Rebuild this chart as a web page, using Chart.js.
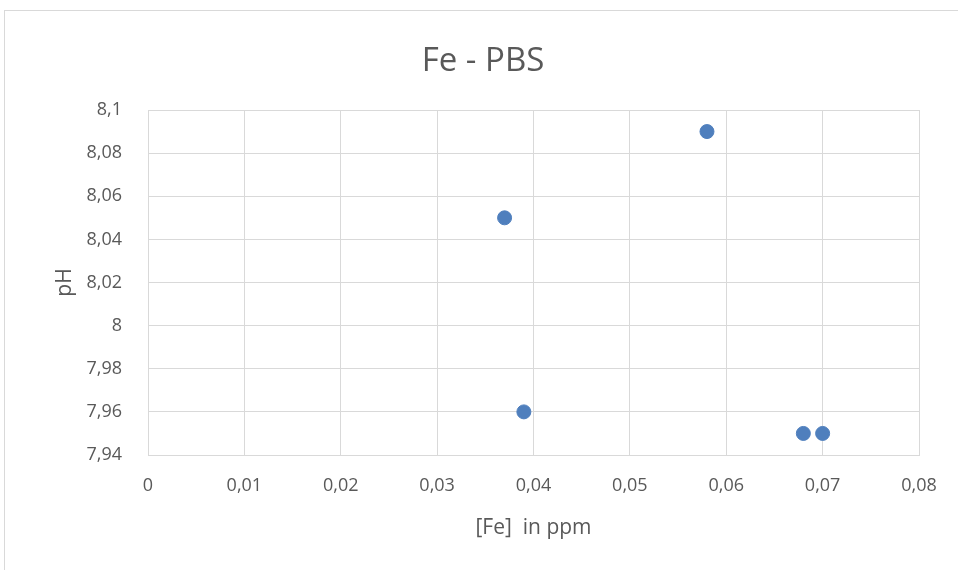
<!DOCTYPE html>
<html>
<head>
<meta charset="utf-8">
<script src="https://cdn.jsdelivr.net/npm/chart.js@4"></script>
<style>
  body { margin: 0; background: #fff; }
  #wrap { position: relative; width: 958px; height: 570px; overflow: hidden; }
  #frame { position: absolute; left: 4px; top: 10px; width: 1000px; height: 600px; border: 1px solid #d9d9d9; }
  canvas { position: absolute; left: 0; top: 0; }
  #title { position: absolute; left: 283px; width: 400px; top: 36px; height: 42px; line-height: 42px;
           text-align: center; font: 33px 'Open Sans', 'Noto Sans', sans-serif; color: #595959; }
</style>
</head>
<body>
<div id="wrap">
  <div id="frame"></div>
  <canvas id="fe-chart" width="958" height="570"></canvas>
  <div id="title">Fe - PBS</div>
</div>
<script>
// data
let feValues = [0.037, 0.039, 0.058, 0.068, 0.070]
let phValues = [8.05, 7.96, 8.09, 7.95, 7.95]
let xTicks = [0, 0.01, 0.02, 0.03, 0.04, 0.05, 0.06, 0.07, 0.08]
let yTicks = [7.94, 7.96, 7.98, 8, 8.02, 8.04, 8.06, 8.08, 8.1]

let points = []
for (let i = 0; i < feValues.length; i++) {
    points.push({x: feValues[i], y: phValues[i]})
}

// comma as decimal separator
function commaLabel(v) {
    return Number(v.toFixed(3)).toString().replace('.', ',')
}

let textColor = '#595959'
let gridColor = '#d9d9d9'
let fontName = "'Open Sans', 'Noto Sans', sans-serif"

let ctx = document.querySelector('#fe-chart').getContext('2d')

let feChart = new Chart(ctx, {
    type: 'scatter',
    data: {
        datasets: [{
            data: points,
            backgroundColor: '#4f7fbd',
            borderColor: '#4f7fbd',
            pointRadius: 7,
            pointHoverRadius: 7
        }]
    },
    options: {
        responsive: false,
        animation: false,
        layout: { padding: { left: 10, right: 39, top: 110, bottom: 29 } },
        plugins: {
            legend: { display: false },
            tooltip: { enabled: false },
            title: { display: false }
        },
        scales: {
            x: {
                type: 'linear',
                min: xTicks[0],
                max: xTicks[xTicks.length - 1],
                afterBuildTicks: axis => { axis.ticks = xTicks.map(v => ({value: v})) },
                afterFit: axis => { axis.height = 86 },
                grid: { color: gridColor, drawTicks: false },
                border: { color: gridColor },
                ticks: {
                    color: textColor,
                    padding: 20,
                    maxRotation: 0,
                    font: { family: fontName, size: 18 },
                    callback: v => commaLabel(v)
                },
                title: {
                    display: true,
                    text: '[Fe]  in ppm',
                    color: textColor,
                    font: { family: fontName, size: 21 },
                    padding: 0
                }
            },
            y: {
                type: 'linear',
                min: yTicks[0],
                max: yTicks[yTicks.length - 1],
                afterBuildTicks: axis => { axis.ticks = yTicks.map(v => ({value: v})) },
                afterFit: axis => { axis.width = 138 },
                grid: { color: gridColor, drawTicks: false },
                border: { color: gridColor },
                ticks: {
                    color: textColor,
                    padding: 26,
                    font: { family: fontName, size: 18 },
                    callback: v => commaLabel(v)
                },
                title: {
                    display: true,
                    text: 'pH',
                    color: textColor,
                    font: { family: fontName, size: 21 },
                    padding: { top: 42, bottom: 0 }
                }
            }
        }
    }
})
</script>
</body>
</html>
